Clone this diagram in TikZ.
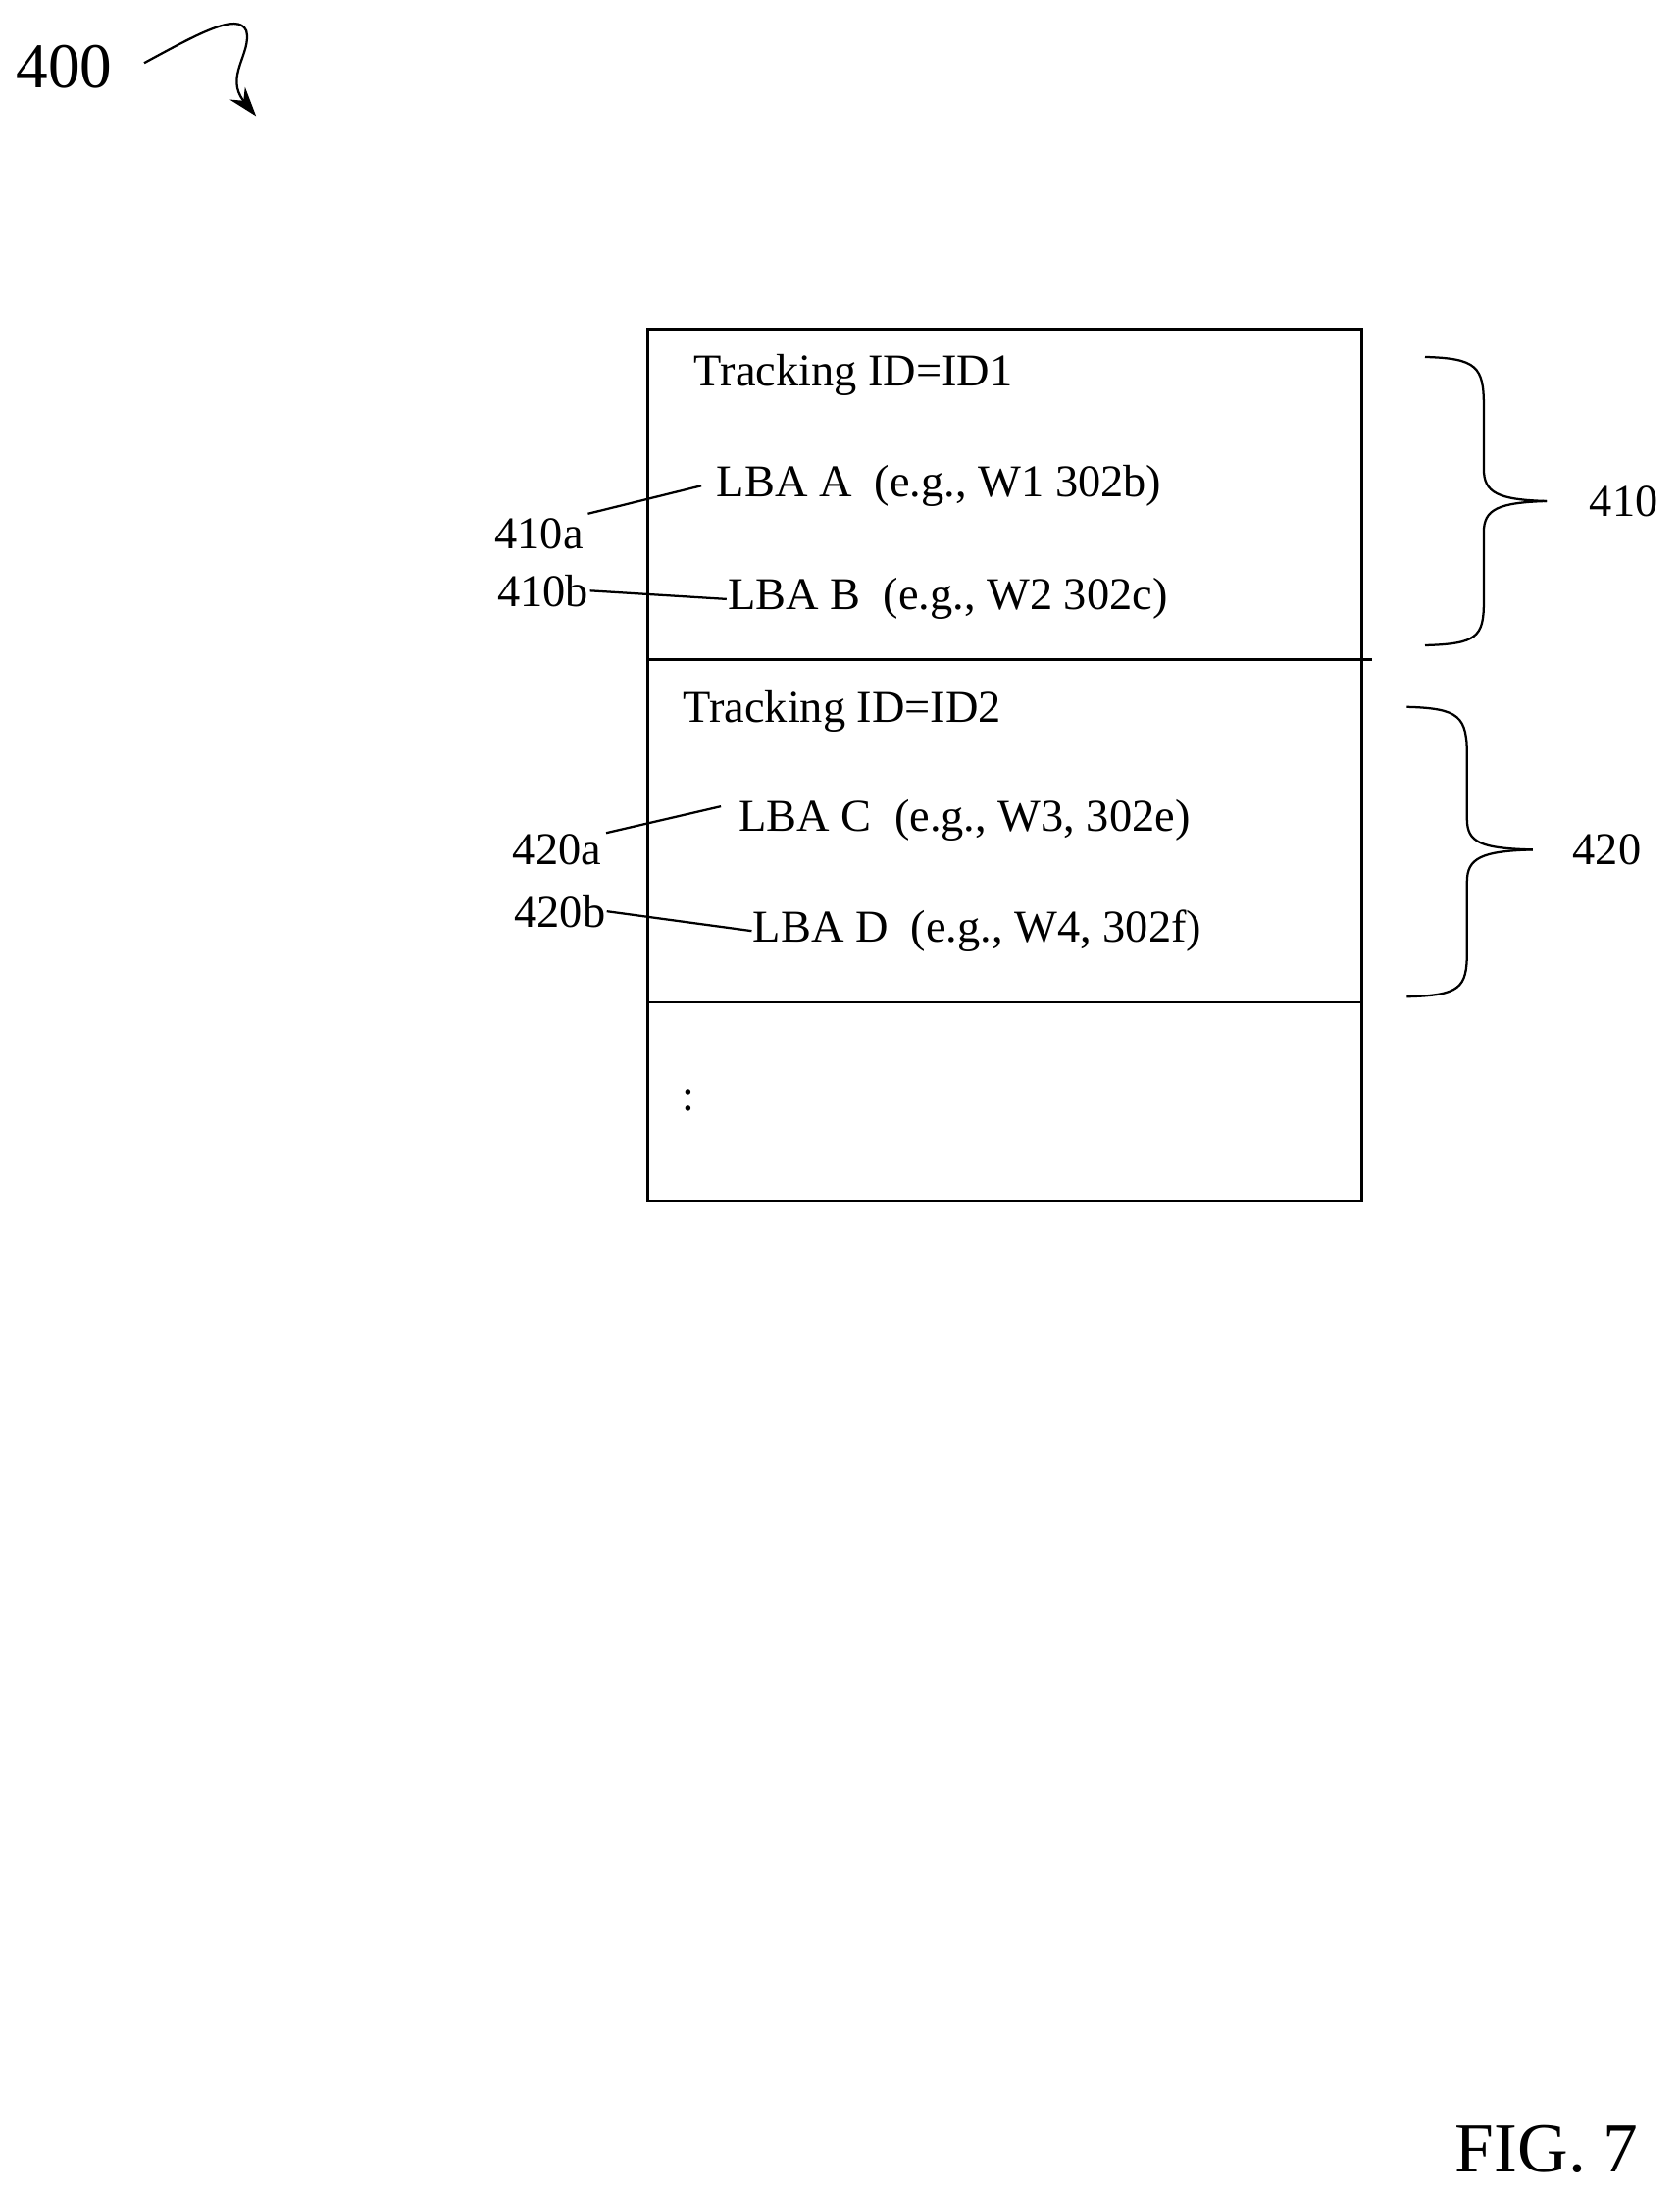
\documentclass[tikz,border=0pt]{standalone}
\usepackage{fontspec}
\setmainfont{Liberation Serif}
\usetikzlibrary{arrows.meta}
\begin{document}
\begin{tikzpicture}[x=0.02cm,y=-0.02cm,line width=1.1pt,
 t/.style={font=\fontsize{18.5}{20}\selectfont,inner sep=0pt},
 ln/.style={line width=0.9pt}]
\useasboundingbox (0,0) rectangle (1200,1568);
\draw (463,235) rectangle (973,858);
\draw (463,471) -- (980,471);
\draw (463,716) -- (973,716);
\node[t,anchor=west] (t1) at (495,268) {Tracking ID=ID1};
\node[t,anchor=west] (a) at (511,347) {LBA A\ \ (e.g., W1 302b)};
\node[t,anchor=west] (b) at (519,428) {LBA B\ \ (e.g., W2 302c)};
\node[t,anchor=west] (t2) at (487,508) {Tracking ID=ID2};
\node[t,anchor=west] (c) at (527,586) {LBA C\ \ (e.g., W3, 302e)};
\node[t,anchor=west] (d) at (537,665) {LBA D\ \ (e.g., W4, 302f)};
\node[t,anchor=west] (dots) at (486,786) {:};
\node[t] (la) at (385,381) {410a};
\node[t] (lb) at (388,422) {410b};
\node[t] (lc) at (398,607) {420a};
\node[t] (ld) at (400,651) {420b};
\draw[ln] (420,367) -- ([shift={(-10,0)}]a.west);
\draw[ln] (lb.east) -- (b.west);
\draw[ln] (433,595) -- ([shift={(-12,-10)}]c.west);
\draw[ln] (ld.east) -- (d.west);
% braces
\draw[ln] (1018,255) .. controls (1055,256) and (1060,262) .. (1060,290) -- (1060,335)
  .. controls (1060,352) and (1070,357) .. (1105,358);
\draw[ln] (1105,358) .. controls (1070,359) and (1060,364) .. (1060,380) -- (1060,430)
  .. controls (1060,455) and (1055,460) .. (1018,461);
\node[t] (n410) at (1160,358) {410};
\draw[ln] (1005,505) .. controls (1043,506) and (1048,512) .. (1048,540) -- (1048,585)
  .. controls (1048,602) and (1058,606) .. (1095,607);
\draw[ln] (1095,607) .. controls (1058,608) and (1048,613) .. (1048,630) -- (1048,680)
  .. controls (1048,706) and (1043,711) .. (1005,712);
\node[t] (n420) at (1148,607) {420};
\node[font=\fontsize{26}{28}\selectfont,inner sep=0pt] (n400) at (46,48) {400};
\draw[ln,-{Stealth[length=12pt,width=8pt]}] (103,45) .. controls (140,25) and (170,8) .. (176,22)
  .. controls (180,38) and (160,55) .. (183,83);
\node[font=\fontsize{28.5}{30}\selectfont,inner sep=0pt] (fig) at (1105,1535) {FIG. 7};
\end{tikzpicture}
\end{document}
